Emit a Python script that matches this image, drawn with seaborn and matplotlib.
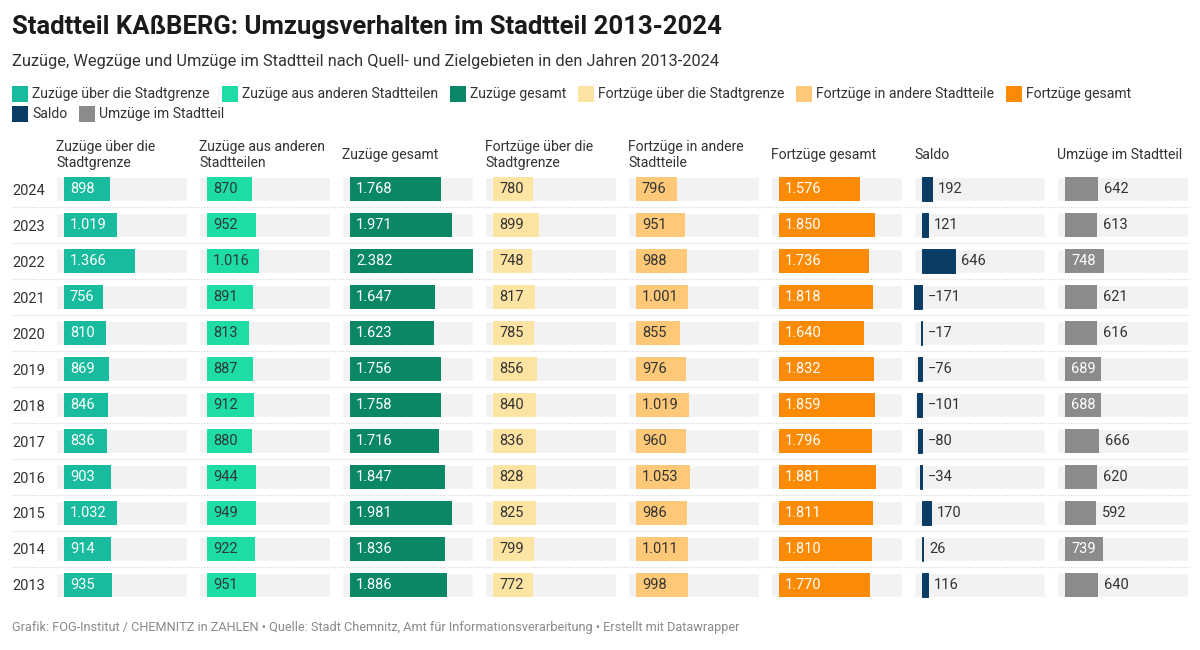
import matplotlib

matplotlib.use("Agg")
import matplotlib.pyplot as plt
import matplotlib.transforms as mtransforms
from matplotlib.patches import Rectangle
import pandas as pd
import seaborn as sns

years = ["2024", "2023", "2022", "2021", "2020", "2019", "2018", "2017", "2016", "2015", "2014", "2013"]

zuzuege_grenze = [898, 1019, 1366, 756, 810, 869, 846, 836, 903, 1032, 914, 935]
zuzuege_stadtteile = [870, 952, 1016, 891, 813, 887, 912, 880, 944, 949, 922, 951]
zuzuege_gesamt = [1768, 1971, 2382, 1647, 1623, 1756, 1758, 1716, 1847, 1981, 1836, 1886]
fortzuege_grenze = [780, 899, 748, 817, 785, 856, 840, 836, 828, 825, 799, 772]
fortzuege_stadtteile = [796, 951, 988, 1001, 855, 976, 1019, 960, 1053, 986, 1011, 998]
fortzuege_gesamt = [1576, 1850, 1736, 1818, 1640, 1832, 1859, 1796, 1881, 1811, 1810, 1770]
saldo = [192, 121, 646, -171, -17, -76, -101, -80, -34, 170, 26, 116]
umzuege = [642, 613, 748, 621, 616, 689, 688, 666, 620, 592, 739, 640]

series_names = [
    "Zuzüge über die Stadtgrenze",
    "Zuzüge aus anderen Stadtteilen",
    "Zuzüge gesamt",
    "Fortzüge über die Stadtgrenze",
    "Fortzüge in andere Stadtteile",
    "Fortzüge gesamt",
    "Saldo",
    "Umzüge im Stadtteil",
]
headers = [
    "Zuzüge über die\nStadtgrenze",
    "Zuzüge aus anderen\nStadtteilen",
    "Zuzüge gesamt",
    "Fortzüge über die\nStadtgrenze",
    "Fortzüge in andere\nStadtteile",
    "Fortzüge gesamt",
    "Saldo",
    "Umzüge im Stadtteil",
]
series_values = [
    zuzuege_grenze, zuzuege_stadtteile, zuzuege_gesamt,
    fortzuege_grenze, fortzuege_stadtteile, fortzuege_gesamt,
    saldo, umzuege,
]
colors = ["#18bb9d", "#1edca6", "#0a8767", "#fde4a3", "#fdc878", "#fb8b05", "#0b3c64", "#8b8b8b"]
# light bars get dark labels inside
inside_text = ["white", "#2f3a36", "white", "#333333", "#333333", "white", "white", "white"]

sns.set_theme(style="white")
plt.rcParams["font.family"] = ["Roboto", "DejaVu Sans"]

W, H = 1200, 650
fig = plt.figure(figsize=(12, 6.5), dpi=100)

xmax = max(max(abs(v) for v in s) for s in series_values)
xmin = -xmax * 8 / 123
col_left, col_step, col_w = 56, 143, 131
top_px, row_h = 171, 36
n = len(years)

axes = []
for i, (name, vals) in enumerate(zip(series_names, series_values)):
    ax = fig.add_axes([(col_left + i * col_step) / W, 1 - (top_px + n * row_h) / H,
                       col_w / W, n * row_h / H])
    df = pd.DataFrame({"year": years, "value": vals})
    # grey background cells
    ax.barh(range(n), [xmax - xmin] * n, left=xmin, height=24 / 36,
            color="#f2f2f2", zorder=0)
    # thin saldo bars keep a visible minimum width
    edge_lw = 0.7 if name == "Saldo" else 0
    sns.barplot(data=df, x="value", y="year", orient="h", order=years,
                color=colors[i], saturation=1, width=24 / 36, errorbar=None,
                edgecolor=colors[i], linewidth=edge_lw, ax=ax, zorder=2)
    ax.set_xlim(xmin, xmax)
    ax.set_ylim(n - 0.5, -0.5)
    ax.set_xlabel("")
    ax.set_ylabel("")
    ax.set_xticks([])
    for s in ax.spines.values():
        s.set_visible(False)
    ax.set_facecolor("none")
    if i == 0:
        ax.tick_params(axis="y", length=0, pad=44 * 0.72, labelsize=10.5, labelcolor="#333333")
        for lab in ax.get_yticklabels():
            lab.set_horizontalalignment("left")
    else:
        ax.set_yticks([])

    for j, v in enumerate(vals):
        txt = f"{abs(v):,}".replace(",", ".")
        if v < 0:
            txt = "\u2212" + txt
        if abs(v) > 680:
            ax.annotate(txt, xy=(0, j), xytext=(6 * 0.72, 0), textcoords="offset points",
                        ha="left", va="center", fontsize=10.5, color=inside_text[i], zorder=3)
        else:
            ax.annotate(txt, xy=(max(v, 0), j), xytext=(6 * 0.72, 0), textcoords="offset points",
                        ha="left", va="center", fontsize=10.5, color="#333333", zorder=3)

    ax.annotate(headers[i], xy=(0, 1), xycoords="axes fraction", xytext=(0, 16 * 0.72),
                textcoords="offset points", ha="left", va="center", fontsize=10.1,
                color="#333333", linespacing=1.1)
    axes.append(ax)

# dotted row separators
trans = mtransforms.blended_transform_factory(fig.transFigure, axes[0].transData)
for j in range(n - 1):
    axes[0].plot([12 / W, 1188 / W], [j + 0.5, j + 0.5], transform=trans, clip_on=False,
                 color="#d4d4d4", lw=0.8, ls=(0, (1, 1.5)), zorder=1)

fig.text(12 / W, 1 - 34 / H, "Stadtteil KAßBERG: Umzugsverhalten im Stadtteil 2013-2024",
         fontsize=18.5, fontweight="bold", color="#1a1a1a", va="baseline")
fig.text(12 / W, 1 - 66 / H,
         "Zuzüge, Wegzüge und Umzüge im Stadtteil nach Quell- und Zielgebieten in den Jahren 2013-2024",
         fontsize=11.8, color="#333333", va="baseline")

# legend, laid out by hand like the Datawrapper key
renderer = fig.canvas.get_renderer()
x, y = 12, 94
for k, (name, c) in enumerate(zip(series_names, colors)):
    if k == 6:
        x, y = 12, 114
    fig.add_artist(Rectangle((x / W, 1 - (y + 8) / H), 16 / W, 16 / H,
                             transform=fig.transFigure, color=c, lw=0))
    t = fig.text((x + 20) / W, 1 - y / H, name, fontsize=10.1, color="#333333", va="center")
    w = t.get_window_extent(renderer).width
    x += 20 + w + 12

fig.text(12 / W, 1 - 628 / H,
         "Grafik: FOG-Institut / CHEMNITZ in ZAHLEN \u2022 Quelle: Stadt Chemnitz, Amt für "
         "Informationsverarbeitung \u2022 Erstellt mit Datawrapper",
         fontsize=9.2, color="#8a8a8a", va="center")

fig.savefig("out.png", dpi=100, facecolor="white")
